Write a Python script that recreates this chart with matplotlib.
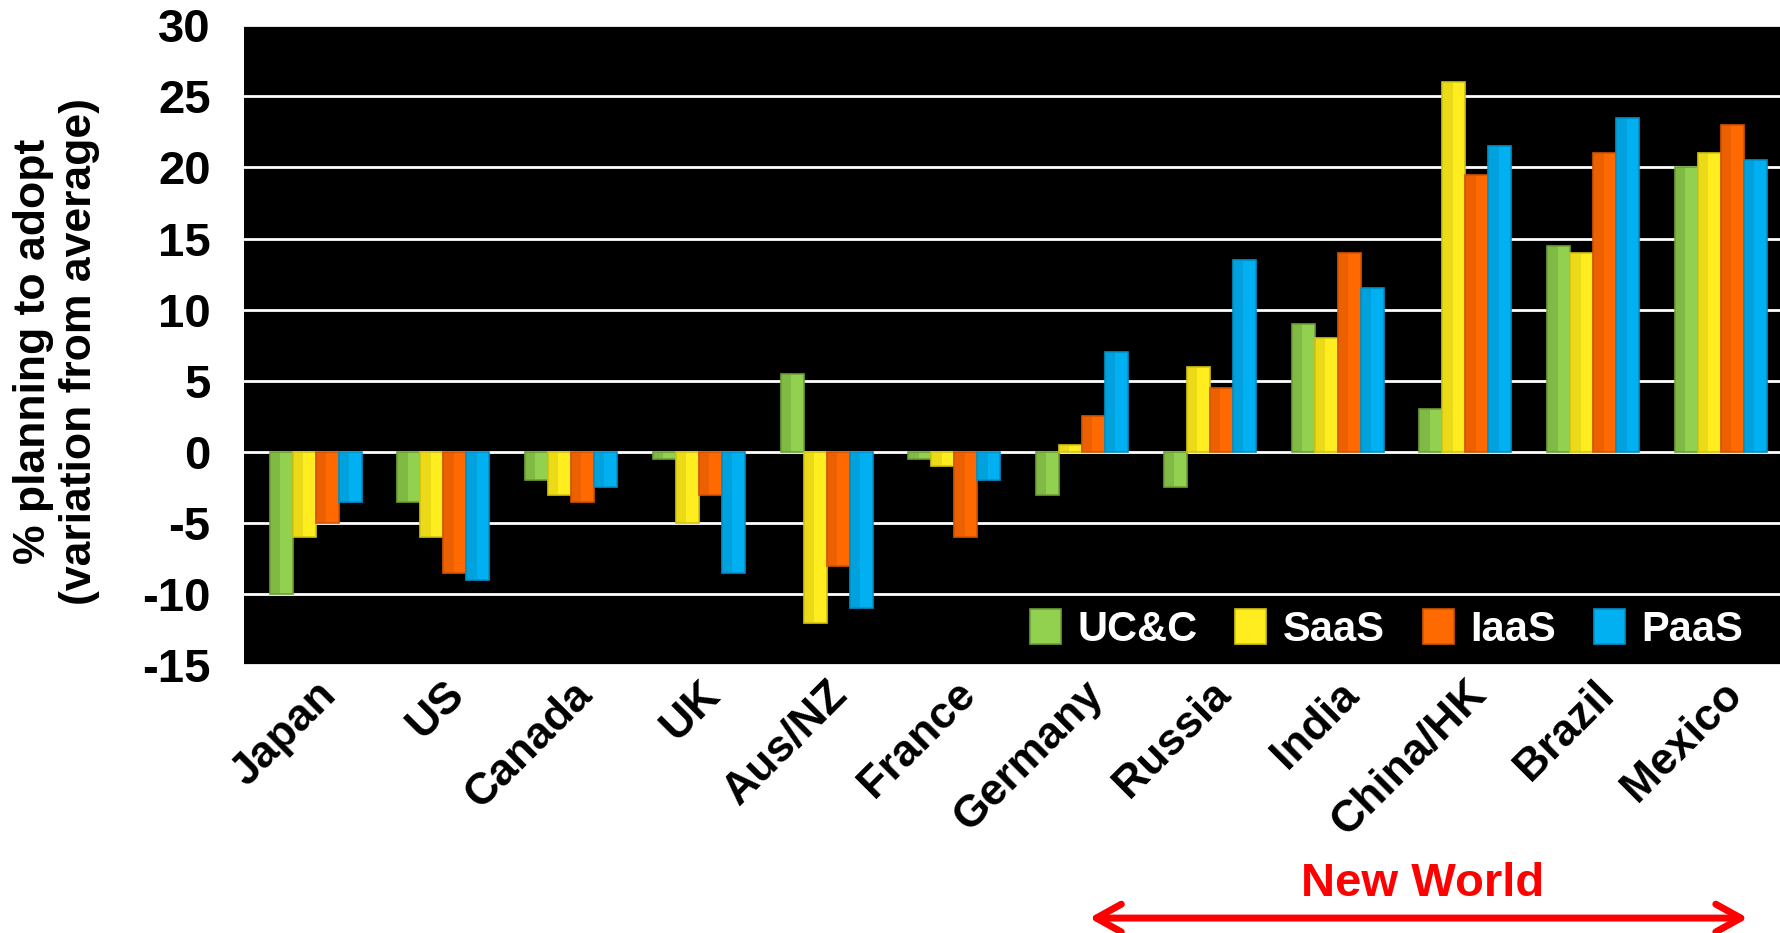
import matplotlib
matplotlib.use("Agg")
import matplotlib.pyplot as plt
import numpy as np

plt.rcParams['font.family'] = ['Liberation Sans', 'DejaVu Sans']
plt.rcParams['axes.unicode_minus'] = False

countries = ['Japan', 'US', 'Canada', 'UK', 'Aus/NZ', 'France', 'Germany',
             'Russia', 'India', 'China/HK', 'Brazil', 'Mexico']
ucc = [-10, -3.5, -2, -0.5, 5.5, -0.5, -3, -2.5, 9, 3, 14.5, 20]
saas = [-6, -6, -3, -5, -12, -1, 0.5, 6, 8, 26, 14, 21]
iaas = [-5, -8.5, -3.5, -3, -8, -6, 2.5, 4.5, 14, 19.5, 21, 23]
paas = [-3.5, -9, -2.5, -8.5, -11, -2, 7, 13.5, 11.5, 21.5, 23.5, 20.5]
series_names = ['UC&C', 'SaaS', 'IaaS', 'PaaS']
yticks = [-15, -10, -5, 0, 5, 10, 15, 20, 25, 30]

colors = ['#92D050', '#FFED1F', '#FF6A00', '#00B0F0']
darks = ['#6E9E38', '#D4C410', '#D45400', '#0090C8']

fig = plt.figure(figsize=(17.81, 9.33), dpi=100)
ax = fig.add_axes([0.137, 0.287, 0.863, 0.686])
ax.set_facecolor('black')

x = np.arange(len(countries))
w = 0.18
for i, (vals, name) in enumerate(zip([ucc, saas, iaas, paas], series_names)):
    pos = x + (i - 1.5) * w
    ax.bar(pos, vals, w, color=colors[i], edgecolor=darks[i], linewidth=1.2,
           label=name, zorder=3)
    # darker left part to mimic the bevel shading
    ax.bar(pos - w / 2, vals, w * 0.45, align='edge', color=darks[i],
           alpha=0.45, linewidth=0, zorder=4)

ax.set_ylim(-15, 30)
ax.set_xlim(-0.56, 11.47)
ax.set_yticks(yticks)
ax.set_yticklabels([str(t) for t in yticks], fontsize=34, fontweight='bold')
ax.yaxis.grid(True, color='white', linewidth=2)
ax.set_axisbelow(True)
ax.tick_params(axis='both', length=0)
ax.tick_params(axis='y', pad=24)
for s in ax.spines.values():
    s.set_visible(False)

ax.set_xticks(x)
ax.set_xticklabels(countries, rotation=45, ha='right', va='top',
                   rotation_mode='anchor', fontsize=32, fontweight='bold')
ax.tick_params(axis='x', pad=6)

ax.set_ylabel('% planning to adopt\n(variation from average)', fontsize=32,
              fontweight='bold', linespacing=1.15)
ax.yaxis.set_label_coords(-0.094, 0.49)

leg = ax.legend(loc='lower right', bbox_to_anchor=(1.0, -0.035), ncol=4,
                frameon=False, fontsize=30, handlelength=0.75,
                handleheight=0.9, handletextpad=0.4, columnspacing=0.9)
for t in leg.get_texts():
    t.set_color('white')
    t.set_fontweight('bold')

fig.text(0.799, 0.052, 'New World', color='#FF0000', fontsize=34,
         fontweight='bold', ha='center', va='center')
fig.patches.append(matplotlib.patches.FancyArrowPatch(
    (0.61, 0.016), (0.983, 0.016), transform=fig.transFigure,
    arrowstyle='<->,head_length=18,head_width=10', color='#FF0000',
    linewidth=5, mutation_scale=1))

fig.savefig('out.png', dpi=100, facecolor='white')
